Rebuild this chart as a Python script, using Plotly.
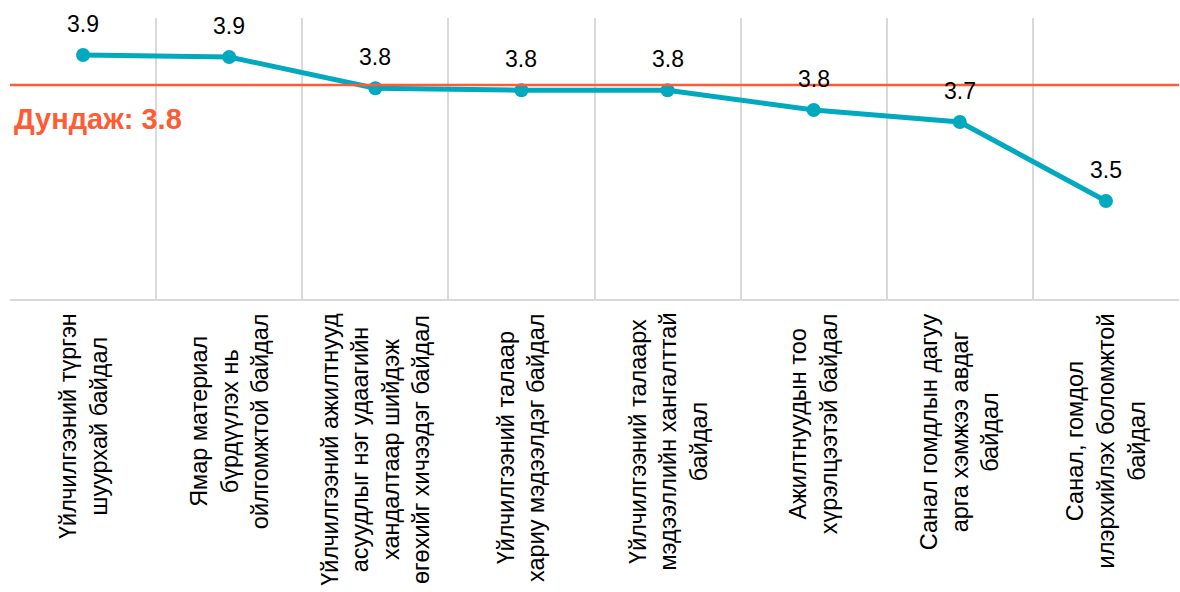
import plotly.graph_objects as go

categories = [
    "Үйлчилгээний түргэн шуурхай байдал",
    "Ямар материал бүрдүүлэх нь ойлгомжтой байдал",
    "Үйлчилгээний ажилтнууд асуудлыг нэг удаагийн хандалтаар шийдэж өгөхийг хичээдэг байдал",
    "Үйлчилгээний талаар хариу мэдээлдэг байдал",
    "Үйлчилгээний талаарх мэдээллийн хангалттай байдал",
    "Ажилтнуудын тоо хүрэлцээтэй байдал",
    "Санал гомдлын дагуу арга хэмжээ авдаг байдал",
    "Санал, гомдол илэрхийлэх боломжтой байдал",
]
tick_labels = [
    "Үйлчилгээний түргэн<br>шуурхай байдал",
    "Ямар материал<br>бүрдүүлэх нь<br>ойлгомжтой байдал",
    "Үйлчилгээний ажилтнууд<br>асуудлыг нэг удаагийн<br>хандалтаар шийдэж<br>өгөхийг хичээдэг байдал",
    "Үйлчилгээний талаар<br>хариу мэдээлдэг байдал",
    "Үйлчилгээний талаарх<br>мэдээллийн хангалттай<br>байдал",
    "Ажилтнуудын тоо<br>хүрэлцээтэй байдал",
    "Санал гомдлын дагуу<br>арга хэмжээ авдаг<br>байдал",
    "Санал, гомдол<br>илэрхийлэх боломжтой<br>байдал",
]
values = [3.908, 3.903, 3.825, 3.820, 3.820, 3.771, 3.741, 3.544]
average = 3.833

FONT = "Liberation Sans, Arial, sans-serif"
LINE_COLOR = "#00A9BD"
AVG_COLOR = "#FF5B35"
GRID = "#D9D9D9"

fig = go.Figure()
fig.add_trace(go.Scatter(
    x=categories, y=values, mode="lines+markers",
    line=dict(color=LINE_COLOR, width=5),
    marker=dict(color=LINE_COLOR, size=14),
    hoverinfo="skip", showlegend=False,
))

annotations = []
for c, v in zip(categories, values):
    annotations.append(dict(
        x=c, y=v, xref="x", yref="y", text=f"{v:.1f}", showarrow=False,
        yshift=31, font=dict(family=FONT, size=23, color="#000000"),
    ))
for c, t in zip(categories, tick_labels):
    annotations.append(dict(
        x=c, y=0, xref="x", yref="paper", text=t, showarrow=False,
        textangle=-90, align="center", yanchor="top", yshift=-12,
        font=dict(family=FONT, size=23.5, color="#000000"),
    ))
annotations.append(dict(
    x=0, y=average, xref="paper", yref="y", text=f"<b>Дундаж: {average:.1f}</b>",
    showarrow=False, xanchor="left", xshift=2, yshift=-34,
    font=dict(family=FONT, size=29, color=AVG_COLOR),
))

fig.add_shape(type="line", xref="paper", yref="y", x0=0, x1=1, y0=average, y1=average,
              line=dict(color=AVG_COLOR, width=2.5), layer="above")

fig.update_layout(
    width=1180, height=592,
    margin=dict(l=10, r=1, t=18, b=293),
    paper_bgcolor="white", plot_bgcolor="white",
    xaxis=dict(type="category", range=[-0.5, 7.5], tickson="boundaries",
               showgrid=True, gridcolor=GRID, gridwidth=1.5,
               showticklabels=False, ticks="", showline=True, linecolor=GRID,
               linewidth=2, mirror=False, zeroline=False, fixedrange=True),
    yaxis=dict(range=[3.3, 4.0], showgrid=False, showticklabels=False,
               zeroline=False, showline=False, ticks="", fixedrange=True),
    annotations=annotations,
)

fig.write_html("out.html")
